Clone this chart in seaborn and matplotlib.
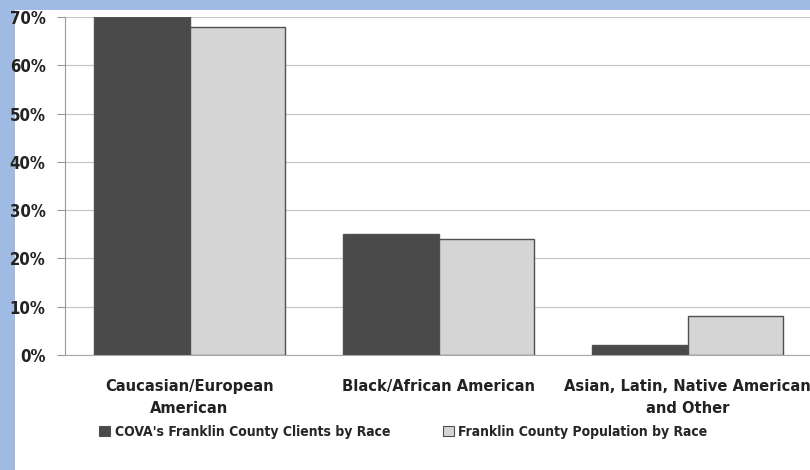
import pandas as pd
import seaborn as sns
import matplotlib.pyplot as plt
from matplotlib.patches import Rectangle

# ------------------------------------------------------------
# Data
# ------------------------------------------------------------
categories = ["Caucasian/European\nAmerican", "Black/African American",
              "Asian, Latin, Native American\nand Other"]
series = ["COVA's Franklin County Clients by Race", "Franklin County Population by Race"]
clients = [70, 25, 2]
population = [68, 24, 8]
yticks = [0, 10, 20, 30, 40, 50, 60, 70]

df = pd.DataFrame({
    "category": categories * 2,
    "series": [series[0]] * 3 + [series[1]] * 3,
    "value": clients + population,
})

# ------------------------------------------------------------
# Figure
# ------------------------------------------------------------
sns.set_style("white")
plt.rcParams["font.family"] = ["DejaVu Sans"]
plt.rcParams["font.stretch"] = "condensed"

fig = plt.figure(figsize=(8.1, 4.7), dpi=100)
fig.patch.set_facecolor("white")
# blue frame on the left and top
fig.patches.append(Rectangle((0, 0), 15 / 810, 1, transform=fig.transFigure,
                             facecolor="#9fbbe3", edgecolor="none", zorder=-10))
fig.patches.append(Rectangle((0, 1 - 10 / 470), 1, 10 / 470, transform=fig.transFigure,
                             facecolor="#9fbbe3", edgecolor="none", zorder=-10))

ax = fig.add_axes([65 / 810, 1 - 355 / 470, (812 - 65) / 810, (355 - 17) / 470])
ax.set_facecolor("none")

palette = {series[0]: "#4a4a4a", series[1]: "#d5d5d5"}
sns.barplot(data=df, x="category", y="value", hue="series", palette=palette,
            width=0.77, edgecolor="#505050", linewidth=1, saturation=1,
            ax=ax, legend=False, zorder=3)

ax.set_ylim(0, 70)
ax.set_xlim(-0.5, 2.5)
ax.set_yticks(yticks)
ax.set_yticklabels([f"{v}%" for v in yticks], fontsize=12, fontweight="bold",
                   color="#222222")
ax.yaxis.grid(True, color="#c8c8c8", linewidth=0.9, zorder=0)
ax.set_axisbelow(True)
ax.set_xlabel("")
ax.set_ylabel("")
ax.tick_params(axis="x", length=0, pad=17, labelsize=11.8, colors="#222222")
for lab in ax.get_xticklabels():
    lab.set_fontweight("bold")
    lab.set_linespacing(1.6)
ax.set_xticks([0.5, 1.5], minor=True)
ax.tick_params(axis="x", which="minor", length=4, color="#999999")
ax.tick_params(axis="y", length=6, color="#999999", left=True, pad=8)

for s in ["top", "right"]:
    ax.spines[s].set_visible(False)
ax.spines["left"].set_color("#999999")
ax.spines["bottom"].set_color("#aaaaaa")

handles = [Rectangle((0, 0), 1, 1, facecolor=palette[s], edgecolor="#505050", linewidth=0.8)
           for s in series]
fig.legend(handles, series, loc="center", bbox_to_anchor=(0.498, 1 - 432 / 470), ncol=2,
           frameon=False, handlelength=0.8, handleheight=0.8, handletextpad=0.3,
           columnspacing=3.8, prop={"weight": "bold", "size": 10})

fig.savefig("out.png", dpi=100)
